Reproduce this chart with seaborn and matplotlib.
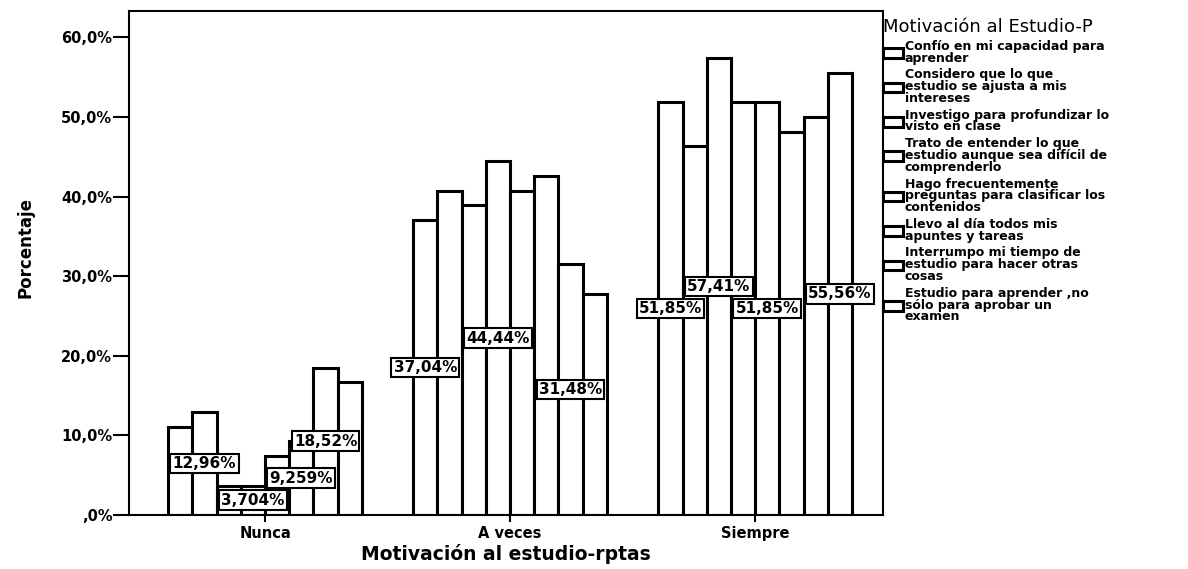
import pandas as pd
import seaborn as sns
import numpy as np
import matplotlib.pyplot as plt

# Answer categories on the x axis
categorias = ["Nunca", "A veces", "Siempre"]

# Items of "Motivación al Estudio-P" (hue), wrapped as in the legend
items = [
    "Confío en mi capacidad para\naprender",
    "Considero que lo que\nestudio se ajusta a mis\nintereses",
    "Investigo para profundizar lo\nvisto en clase",
    "Trato de entender lo que\nestudio aunque sea difícil de\ncomprenderlo",
    "Hago frecuentemente\npreguntas para clasificar los\ncontenidos",
    "Llevo al día todos mis\napuntes y tareas",
    "Interrumpo mi tiempo de\nestudio para hacer otras\ncosas",
    "Estudio para aprender ,no\nsólo para aprobar un\nexamen",
]

# Percent per item (one value per category)
nunca = [11.11, 12.96, 3.704, 3.704, 7.407, 9.259, 18.52, 16.67]
a_veces = [37.04, 40.74, 38.89, 44.44, 40.74, 42.59, 31.48, 27.78]
siempre = [51.85, 46.30, 57.41, 51.85, 51.85, 48.15, 50.00, 55.56]

# Which items get a value label in each category (1-based item number)
etiquetas_nunca = [2, 4, 6, 7]
etiquetas_a_veces = [1, 4, 7]
etiquetas_siempre = [1, 3, 5, 8]

y_ticks = [0, 10, 20, 30, 40, 50, 60]
y_tick_labels = [",0%", "10,0%", "20,0%", "30,0%", "40,0%", "50,0%", "60,0%"]

rows = []
for cat, vals in zip(categorias, [nunca, a_veces, siempre]):
    for item, v in zip(items, vals):
        rows.append({"cat": cat, "item": item, "pct": v})
df = pd.DataFrame(rows)
shown = dict(zip(categorias, [etiquetas_nunca, etiquetas_a_veces, etiquetas_siempre]))

sns.set_style("white")
plt.rcParams["font.family"] = ["DejaVu Sans"]
plt.rcParams["text.color"] = "black"
plt.rcParams["axes.labelcolor"] = "black"
plt.rcParams["xtick.color"] = "black"
plt.rcParams["ytick.color"] = "black"

fig, ax = plt.subplots(figsize=(11.88, 5.69), dpi=100)
fig.subplots_adjust(left=0.1086, right=0.7433, bottom=0.0949, top=0.9807)

sns.barplot(data=df, x="cat", y="pct", hue="item", order=categorias, hue_order=items,
            palette=["white"] * len(items), edgecolor="black", linewidth=2.2,
            width=0.79, errorbar=None, ax=ax)

# value labels, centred in the bar, only for the selected items
for i, cont in enumerate(ax.containers):
    labs = []
    for cat, v in zip(categorias, [nunca[i], a_veces[i], siempre[i]]):
        if (i + 1) in shown[cat]:
            labs.append(f"{v:.4g}".replace(".", ",") + "%")
        else:
            labs.append("")
    ax.bar_label(cont, labels=labs, label_type="center", fontsize=11, fontweight="bold",
                 color="black",
                 bbox=dict(boxstyle="square,pad=0.15", facecolor="white",
                           edgecolor="black", linewidth=1.5))

ax.set_xlim(-0.555, 2.522)
ax.set_ylim(0, 63.3)
ax.set_yticks(y_ticks)
ax.set_yticklabels(y_tick_labels, fontsize=10.5, fontweight="bold")
ax.set_xticks(range(len(categorias)))
ax.set_xticklabels(categorias, fontsize=10.5, fontweight="bold")
ax.tick_params(axis="y", direction="out", length=11.5, width=1.5, pad=0.5, left=True)
ax.tick_params(axis="x", direction="out", length=5, width=1.5, pad=3, bottom=True)

for s in ax.spines.values():
    s.set_visible(True)
    s.set_color("black")
    s.set_linewidth(1.5)

ax.set_xlabel("Motivación al estudio-rptas", fontsize=13.5, fontweight="bold", labelpad=2)
ax.set_ylabel("Porcentaje", fontsize=12, fontweight="bold")
ax.yaxis.set_label_coords(-0.125, 0.53)

handles, labels = ax.get_legend_handles_labels()
leg = ax.legend(handles, labels, title="Motivación al Estudio-P", loc="upper left",
                bbox_to_anchor=(1.0, 0.986), borderaxespad=0, borderpad=0,
                frameon=False, handlelength=1.6, handleheight=0.8, handletextpad=0.15,
                labelspacing=0.3, alignment="left",
                prop={"size": 9, "weight": "bold"}, title_fontsize=13)
for t in leg.get_texts():
    t.set_linespacing(0.88)

plt.savefig("out.png", dpi=100)
